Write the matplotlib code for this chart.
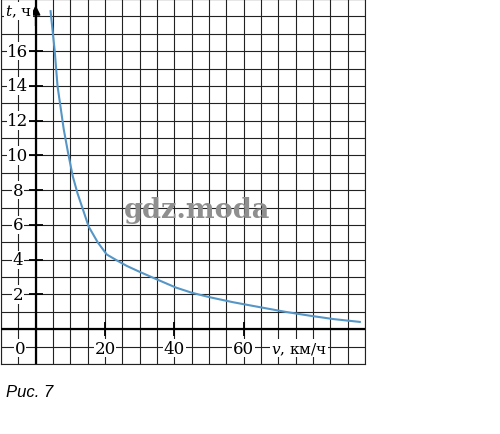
import numpy as np
import matplotlib
matplotlib.use('Agg')
import matplotlib.pyplot as plt

plt.rcParams['font.family'] = ['DejaVu Serif']
plt.rcParams['mathtext.fontset'] = 'dejavuserif'

# скорость, км/ч и время, ч
v = [4.3, 5.5, 6.3, 8.1, 9.3, 10.7, 12.1, 15.3, 17.9, 20.5, 23.5, 26.2, 30.0, 34.0,
     40.4, 45.0, 50.2, 57.0, 64.6, 72.0, 79.0, 86.0, 93.5]
t = [18.3, 16.0, 14.0, 11.5, 10.2, 8.8, 7.8, 5.9, 5.0, 4.3, 3.95, 3.65, 3.3, 2.95,
     2.4, 2.1, 1.84, 1.55, 1.27, 1.0, 0.78, 0.58, 0.42]

x_labels = [20, 40, 60]
y_labels = [2, 4, 6, 8, 10, 12, 14, 16]

fig = plt.figure(figsize=(5, 4.35), dpi=100)
ax = fig.add_axes([0.002, 0.161, 0.728, 0.839])
ax.set_xlim(-10, 95)
ax.set_ylim(-2, 19)

# клетчатая сетка
ax.set_xticks(np.arange(-10, 96, 5))
ax.set_yticks(np.arange(-2, 20, 1))
ax.grid(True, color='#222222', lw=0.8)
ax.tick_params(length=0, labelbottom=False, labelleft=False)
for s in ax.spines.values():
    s.set_linewidth(0.8)
    s.set_color('#222222')

# оси
ax.axhline(0, color='black', lw=1.6, zorder=3)
ax.axvline(0, color='black', lw=1.6, zorder=3)
ax.annotate('', xy=(95.3, 0), xytext=(88, 0),
            arrowprops=dict(arrowstyle='-|>', color='black', lw=1.2, mutation_scale=14), zorder=4)
ax.annotate('', xy=(0, 18.8), xytext=(0, 17.3),
            arrowprops=dict(arrowstyle='-|>', color='black', lw=1.2, mutation_scale=14), zorder=4,
            annotation_clip=False)
ax.plot([0] * len(y_labels), y_labels, ls='none', marker='_', ms=10, mew=1.3, color='black', zorder=4)
ax.plot(x_labels, [0] * len(x_labels), ls='none', marker='|', ms=10, mew=1.3, color='black', zorder=4)

box = dict(facecolor='white', edgecolor='none', pad=0.5)
for y in y_labels:
    ax.text(-5.1, y, str(y), ha='center', va='center', fontsize=12, bbox=box, zorder=5)
for x in x_labels:
    ax.text(x, -1.1, str(x), ha='center', va='center', fontsize=12, bbox=box, zorder=5)
ax.text(-4.6, -1.1, '0', ha='center', va='center', fontsize=12, bbox=box, zorder=5)
ax.text(76, -1.1, r'$\mathit{v}$, км/ч', ha='center', va='center', fontsize=11, bbox=box, zorder=5)
ax.text(-5.0, 18.3, r'$\mathit{t}$, ч', ha='center', va='center', fontsize=11, bbox=box, zorder=5)

# график
ax.plot(v, t, color='#5596c6', lw=1.5, zorder=6)

# водяной знак
ax.text(46.5, 6.9, 'gdz.moda', ha='center', va='center', fontsize=19.5, fontweight='bold',
        color='#8f8f8f', zorder=7)

fig.text(0.012, 0.098, 'Рис. 7', fontsize=12, style='italic', family='Liberation Sans',
         ha='left', va='center')

fig.savefig('out.png', dpi=100)
